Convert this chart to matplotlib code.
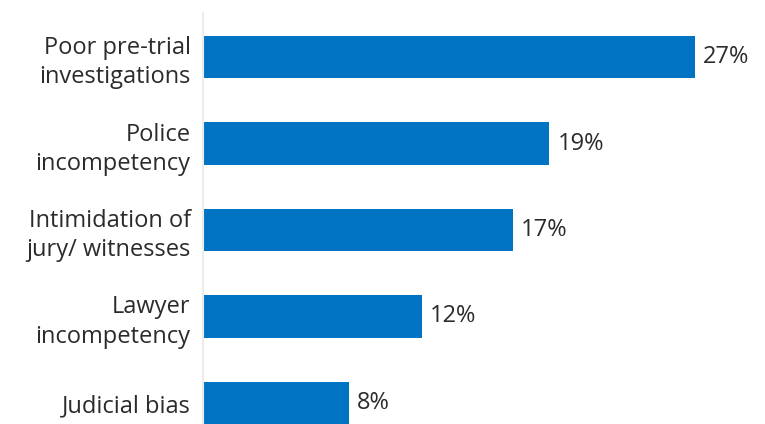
import matplotlib
matplotlib.use('Agg')
import matplotlib.pyplot as plt

categories = ['Poor pre-trial\ninvestigations', 'Police\nincompetency',
              'Intimidation of\njury/ witnesses', 'Lawyer\nincompetency', 'Judicial bias']
shares = [27, 19, 17, 12, 8]

barColor = '#0074c2'
textColor = '#2b2b2b'
plt.rcParams['font.family'] = ['Open Sans', 'DejaVu Sans']

fig = plt.figure(figsize=(7.65, 4.24), dpi=100)
ax = fig.add_axes([0.2654, 0.0, 0.7145, 0.9693])

pos = list(range(len(categories)))
bars = ax.barh(pos, shares, height=0.49, color=barColor)
ax.set_xlim(0, 30)
ax.set_ylim(4.243, -0.509)

for b, v in zip(bars, shares):
    ax.text(b.get_width() + 0.45, b.get_y() + b.get_height() / 2, f'{v}%',
            va='center', ha='left', fontsize=17, color=textColor)

ax.set_yticks(pos)
ax.set_yticklabels(categories, fontsize=17, color=textColor, linespacing=1.28)
ax.tick_params(axis='y', length=0, pad=9)
ax.set_xticks([])
for side in ['top', 'right', 'bottom']:
    ax.spines[side].set_visible(False)
ax.spines['left'].set_color('#ececec')
ax.spines['left'].set_linewidth(1.5)

fig.savefig('out.png', dpi=100)
